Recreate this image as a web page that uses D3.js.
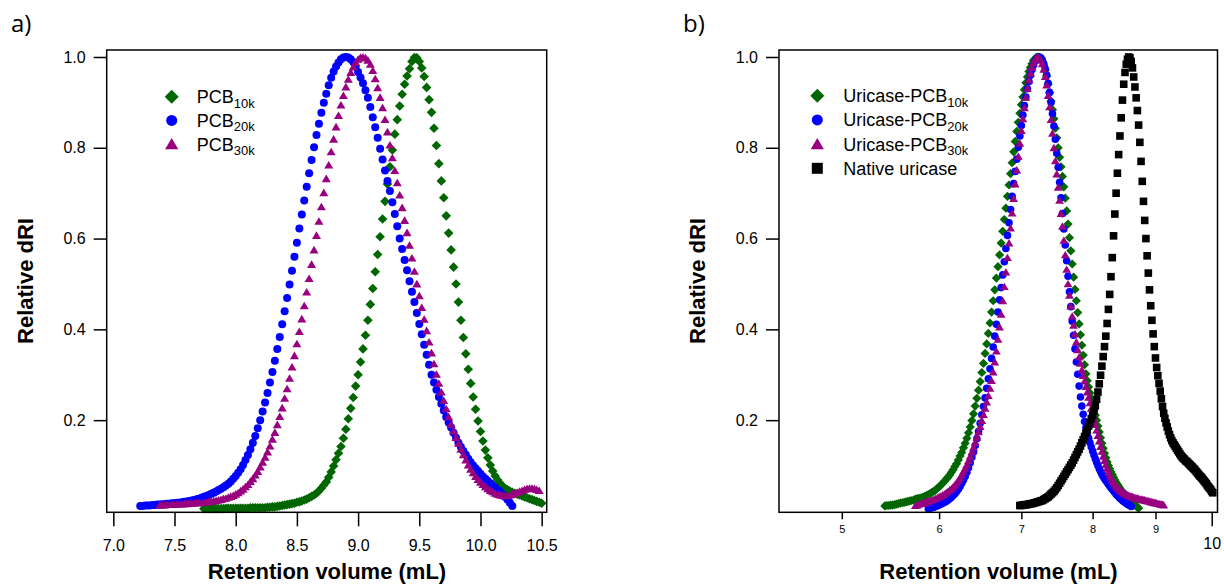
<!DOCTYPE html>
<html>
<head>
<meta charset="utf-8">
<script src="https://cdn.jsdelivr.net/npm/d3@7"></script>
<style>
  body { margin: 0; background: #fff; }
  text { font-family: "Liberation Sans", Arial, sans-serif; fill: #000; }
</style>
</head>
<body>
<script>
// retention volume grids (mL), one per panel
const volumeA = [
  7.22,7.24,7.26,7.28,7.30,7.32,7.34,7.36,7.38,7.40,
  7.42,7.44,7.46,7.48,7.50,7.52,7.54,7.56,7.58,7.60,
  7.62,7.64,7.66,7.68,7.70,7.72,7.74,7.76,7.78,7.80,
  7.82,7.84,7.86,7.88,7.90,7.92,7.94,7.96,7.98,8.00,
  8.02,8.04,8.06,8.08,8.10,8.12,8.14,8.16,8.18,8.20,
  8.22,8.24,8.26,8.28,8.30,8.32,8.34,8.36,8.38,8.40,
  8.42,8.44,8.46,8.48,8.50,8.52,8.54,8.56,8.58,8.60,
  8.62,8.64,8.66,8.68,8.70,8.72,8.74,8.76,8.78,8.80,
  8.82,8.84,8.86,8.88,8.90,8.92,8.94,8.96,8.98,9.00,
  9.02,9.04,9.06,9.08,9.10,9.12,9.14,9.16,9.18,9.20,
  9.22,9.24,9.26,9.28,9.30,9.32,9.34,9.36,9.38,9.40,
  9.42,9.44,9.46,9.48,9.50,9.52,9.54,9.56,9.58,9.60,
  9.62,9.64,9.66,9.68,9.70,9.72,9.74,9.76,9.78,9.80,
  9.82,9.84,9.86,9.88,9.90,9.92,9.94,9.96,9.98,10.00,
  10.02,10.04,10.06,10.08,10.10,10.12,10.14,10.16,10.18,10.20,
  10.22,10.24,10.26,10.28,10.30,10.32,10.34,10.36,10.38,10.40,
  10.42,10.44,10.46,10.48,10.50
];
const volumeB = [
  5.42,5.44,5.46,5.48,5.50,5.52,5.54,5.56,5.58,5.60,
  5.62,5.64,5.66,5.68,5.70,5.72,5.74,5.76,5.78,5.80,
  5.82,5.84,5.86,5.88,5.90,5.92,5.94,5.96,5.98,6.00,
  6.02,6.04,6.06,6.08,6.10,6.12,6.14,6.16,6.18,6.20,
  6.22,6.24,6.26,6.28,6.30,6.32,6.34,6.36,6.38,6.40,
  6.42,6.44,6.46,6.48,6.50,6.52,6.54,6.56,6.58,6.60,
  6.62,6.64,6.66,6.68,6.70,6.72,6.74,6.76,6.78,6.80,
  6.82,6.84,6.86,6.88,6.90,6.92,6.94,6.96,6.98,7.00,
  7.02,7.04,7.06,7.08,7.10,7.12,7.14,7.16,7.18,7.20,
  7.22,7.24,7.26,7.28,7.30,7.32,7.34,7.36,7.38,7.40,
  7.42,7.44,7.46,7.48,7.50,7.52,7.54,7.56,7.58,7.60,
  7.62,7.64,7.66,7.68,7.70,7.72,7.74,7.76,7.78,7.80,
  7.82,7.84,7.86,7.88,7.90,7.92,7.94,7.96,7.98,8.00,
  8.02,8.04,8.06,8.08,8.10,8.12,8.14,8.16,8.18,8.20,
  8.22,8.24,8.26,8.28,8.30,8.32,8.34,8.36,8.38,8.40,
  8.42,8.44,8.46,8.48,8.50,8.52,8.54,8.56,8.58,8.60,
  8.62,8.64,8.66,8.68,8.70,8.72,8.74,8.76,8.78,8.80,
  8.82,8.84,8.86,8.88,8.90,8.92,8.94,8.96,8.98,9.00,
  9.02,9.04,9.06,9.08,9.10,9.12,9.14,9.16,9.18,9.20,
  9.22,9.24,9.26,9.28,9.30,9.32,9.34,9.36,9.38,9.40,
  9.42,9.44,9.46,9.48,9.50,9.52,9.54,9.56,9.58,9.60,
  9.62,9.64,9.66,9.68,9.70,9.72,9.74,9.76,9.78,9.80,
  9.82,9.84,9.86,9.88,9.90,9.92,9.94,9.96,9.98,10.00,
  10.02
];

// panel a) relative dRI, each series starts at the given volume
const pcb10kStart = 7.74;
const pcb10k = [
  .005,.005,.005,.005,
  .005,.005,.005,.005,.005,.006,.006,.006,.006,.006,
  .006,.006,.006,.006,.006,.007,.007,.007,.007,.007,
  .007,.007,.008,.008,.009,.009,.010,.011,.012,.013,
  .014,.015,.016,.017,.019,.020,.022,.024,.026,.029,
  .032,.035,.039,.044,.050,.057,.064,.074,.086,.099,
  .113,.127,.142,.160,.180,.203,.226,.250,.275,.300,
  .328,.357,.387,.420,.455,.490,.527,.565,.604,.643,
  .682,.720,.758,.795,.830,.862,.892,.918,.940,.958,
  .974,.990,.999,.998,.990,.976,.957,.933,.906,.878,
  .843,.805,.765,.727,.690,.650,.612,.575,.537,.500,
  .460,.420,.382,.346,.312,.281,.251,.224,.198,.175,
  .154,.134,.117,.101,.088,.077,.068,.061,.055,.050,
  .047,.044,.041,.039,.037,.035,.033,.031,.029,.027,
  .025,.023,.021,.019,.017
];
const pcb20kStart = 7.22;
const pcb20k = [
  .011,.011,.012,.012,.012,.013,.013,.014,.014,.015,
  .015,.016,.016,.017,.017,.018,.018,.019,.020,.021,
  .022,.023,.024,.026,.027,.029,.031,.033,.035,.038,
  .040,.043,.046,.049,.052,.056,.060,.065,.071,.077,
  .084,.092,.101,.112,.123,.136,.150,.165,.182,.200,
  .219,.239,.260,.283,.306,.331,.357,.383,.411,.440,
  .469,.499,.529,.560,.591,.622,.653,.684,.714,.744,
  .773,.801,.828,.853,.877,.899,.919,.938,.954,.968,
  .979,.988,.995,.999,1.00,.999,.995,.989,.979,.967,
  .955,.942,.927,.910,.890,.867,.845,.822,.798,.774,
  .750,.727,.705,.680,.654,.627,.600,.577,.553,.530,
  .506,.483,.460,.436,.412,.389,.366,.344,.322,.300,
  .283,.267,.251,.236,.221,.207,.195,.184,.172,.161,
  .150,.141,.132,.124,.115,.107,.100,.094,.088,.082,
  .076,.071,.066,.061,.056,.051,.046,.042,.037,.031,
  .025,.018,.011
];
const pcb30kStart = 7.38;
const pcb30k = [
  .013,.013,
  .013,.014,.014,.014,.014,.015,.015,.015,.016,.016,
  .017,.017,.017,.018,.018,.018,.019,.019,.020,.021,
  .022,.023,.024,.025,.027,.028,.030,.032,.034,.037,
  .040,.044,.048,.053,.058,.065,.071,.079,.087,.097,
  .107,.118,.130,.143,.158,.173,.190,.208,.227,.248,
  .269,.292,.317,.342,.368,.395,.423,.452,.482,.512,
  .543,.575,.607,.638,.670,.701,.732,.762,.791,.819,
  .846,.871,.894,.915,.934,.951,.966,.978,.988,.995,
  .999,1.00,.998,.993,.984,.970,.952,.932,.911,.888,
  .862,.835,.806,.778,.750,.723,.696,.668,.640,.613,
  .585,.557,.528,.500,.474,.448,.422,.397,.372,.348,
  .324,.301,.281,.262,.243,.225,.207,.191,.176,.162,
  .149,.136,.124,.112,.101,.092,.084,.076,.069,.063,
  .058,.053,.049,.045,.042,.039,.037,.035,.034,.033,
  .034,.035,.037,.039,.041,.043,.045,.047,.049,.050,
  .050,.049,.047,.045
];

// panel b)
const uric10kStart = 5.42;
const uric10k = [
  .011,.012,.012,.013,.013,.014,.015,.016,.017,.018,
  .019,.020,.021,.022,.023,.024,.026,.027,.028,.029,
  .030,.032,.034,.036,.038,.041,.043,.046,.050,.053,
  .057,.061,.065,.070,.074,.079,.085,.091,.098,.104,
  .112,.121,.129,.139,.149,.160,.172,.185,.199,.214,
  .231,.248,.266,.285,.305,.325,.347,.368,.391,.414,
  .438,.463,.487,.513,.538,.564,.590,.616,.642,.667,
  .693,.718,.743,.767,.791,.814,.836,.856,.876,.895,
  .912,.928,.943,.956,.968,.977,.985,.992,.996,.999,
  1.00,.999,.996,.990,.982,.971,.958,.940,.921,.903,
  .884,.864,.843,.822,.800,.779,.758,.737,.714,.689,
  .661,.632,.602,.573,.544,.515,.488,.463,.437,.412,
  .388,.365,.343,.322,.302,.287,.273,.260,.247,.235,
  .223,.211,.200,.187,.174,.161,.149,.138,.127,.117,
  .108,.100,.093,.086,.080,.074,.068,.063,.058,.054,
  .050,.046,.042,.039,.036,.033,.030,.027,.024,.021,
  .018,.016,.013,.011,.008,.006
];
const uric20kStart = 5.88;
const uric20k = [
  .005,.006,.007,.008,.010,.011,.013,
  .015,.017,.019,.021,.024,.027,.030,.034,.038,.043,
  .048,.054,.061,.068,.076,.085,.095,.106,.118,.130,
  .144,.159,.175,.193,.212,.230,.249,.270,.291,.313,
  .336,.361,.385,.411,.438,.465,.492,.520,.549,.578,
  .607,.635,.664,.693,.721,.748,.775,.801,.826,.849,
  .872,.893,.912,.930,.946,.960,.972,.982,.990,.996,
  .999,1.00,.998,.993,.985,.974,.960,.942,.922,.900,
  .875,.848,.819,.788,.757,.724,.690,.655,.621,.586,
  .551,.517,.483,.450,.418,.387,.357,.328,.301,.275,
  .251,.231,.213,.197,.183,.171,.160,.150,.141,.132,
  .123,.115,.107,.100,.093,.087,.081,.076,.071,.067,
  .063,.059,.055,.051,.048,.044,.041,.037,.034,.031,
  .028,.026,.023,.021,.019,.017,.015,.013,.012,.010
];
const uric30kStart = 5.74;
const uric30k = [
  .012,.013,.015,.016,
  .017,.018,.020,.021,.022,.024,.025,.027,.029,.031,
  .033,.035,.037,.040,.043,.046,.049,.053,.057,.062,
  .067,.073,.080,.087,.094,.102,.111,.120,.130,.140,
  .151,.162,.174,.186,.199,.212,.226,.240,.254,.270,
  .287,.306,.328,.352,.378,.405,.433,.463,.494,.526,
  .558,.590,.623,.656,.688,.720,.751,.781,.810,.838,
  .864,.888,.911,.931,.949,.964,.977,.987,.994,.998,
  1.00,.998,.993,.985,.973,.957,.938,.915,.890,.862,
  .832,.800,.771,.742,.713,.684,.655,.627,.596,.564,
  .532,.500,.475,.451,.429,.409,.390,.372,.355,.339,
  .325,.311,.298,.286,.274,.262,.250,.238,.226,.214,
  .202,.190,.178,.166,.154,.142,.131,.120,.111,.102,
  .094,.087,.080,.074,.069,.064,.059,.055,.052,.049,
  .046,.044,.042,.040,.038,.037,.035,.034,.033,.032,
  .031,.030,.029,.028,.028,.027,.026,.026,.025,.024,
  .024,.023,.022,.022,.021,.020,.020,.019,.018,.018,
  .017,.016,.016,.015,.014,.014,.013
];
const nativeStart = 6.98;
const nativeUricase = [
  .012,.012,
  .013,.013,.014,.014,.015,.016,.016,.017,.018,.019,
  .020,.021,.022,.023,.025,.027,.029,.031,.034,.037,
  .040,.043,.047,.051,.056,.061,.066,.071,.076,.081,
  .086,.091,.096,.101,.106,.112,.118,.124,.130,.136,
  .143,.150,.157,.164,.171,.179,.187,.195,.203,.211,
  .220,.232,.246,.262,.280,.299,.319,.340,.362,.385,
  .413,.444,.477,.516,.558,.606,.654,.700,.744,.785,
  .826,.866,.905,.940,.966,.984,.995,1.00,.998,.990,
  .976,.956,.934,.910,.882,.850,.812,.770,.726,.682,
  .640,.600,.562,.524,.487,.452,.420,.390,.362,.337,
  .316,.298,.281,.264,.247,.230,.215,.204,.194,.185,
  .176,.168,.161,.155,.150,.146,.142,.138,.134,.130,
  .126,.122,.119,.116,.114,.111,.109,.107,.104,.102,
  .099,.097,.094,.092,.089,.086,.083,.080,.077,.075,
  .072,.069,.066,.063,.060,.056,.053,.050,.047,.043,
  .040
];

// axis ticks and labels
const ticksA = [7.0, 7.5, 8.0, 8.5, 9.0, 9.5, 10.0, 10.5];
const minorTicksB = [5, 6, 7, 8, 9];
const majorTicksB = [10];
const ticksY = [0.2, 0.4, 0.6, 0.8, 1.0];
const namesA = ["PCB", "PCB", "PCB"];
const subsA = ["10k", "20k", "30k"];
const namesB = ["Uricase-PCB", "Uricase-PCB", "Uricase-PCB", "Native uricase"];
const subsB = ["10k", "20k", "30k", ""];

var width = 1224, height = 586;
var top0 = 50, bottom0 = 512.3;

var svg = d3.select("body").append("svg")
  .attr("width", width)
  .attr("height", height);

var y = d3.scaleLinear().domain([-0.003, 1.0154]).range([bottom0, top0]);
var xA = d3.scaleLinear().domain([6.946, 10.541]).range([106.7, 546.7]);
var xB = d3.scaleLog().domain([4.445, 10.109]).range([779, 1217.5]);

var green = "#006600", blue = "#0000ff", purple = "#990080", black = "#000000";

// marker shapes, r = half size
function shapePath(kind, r) {
  if (kind == "diamond") return "M0," + (-r) + "L" + r + ",0L0," + r + "L" + (-r) + ",0Z";
  if (kind == "triangle") return "M0," + (-r) + "L" + (r * 1.1) + "," + (r * 0.85) + "L" + (-r * 1.1) + "," + (r * 0.85) + "Z";
  if (kind == "square") return "M" + (-r) + "," + (-r) + "h" + (2 * r) + "v" + (2 * r) + "h" + (-2 * r) + "Z";
  return d3.symbol(d3.symbolCircle, Math.PI * r * r)();
}

function points(grid, start, values) {
  var i0 = grid.indexOf(start);
  return values.map(function(v, i) {
    return [grid[i0 + i], v];
  });
}

var seriesA = [
  {pts: points(volumeA, pcb10kStart, pcb10k), shape: "diamond", r: 4.8, color: green},
  {pts: points(volumeA, pcb20kStart, pcb20k), shape: "circle", r: 4.0, color: blue},
  {pts: points(volumeA, pcb30kStart, pcb30k), shape: "triangle", r: 4.1, color: purple}
];
var seriesB = [
  {pts: points(volumeB, uric10kStart, uric10k), shape: "diamond", r: 4.6, color: green},
  {pts: points(volumeB, uric20kStart, uric20k), shape: "circle", r: 3.8, color: blue},
  {pts: points(volumeB, uric30kStart, uric30k), shape: "triangle", r: 4.0, color: purple},
  {pts: points(volumeB, nativeStart, nativeUricase), shape: "square", r: 3.8, color: black}
];

function drawSeries(series, x) {
  series.forEach(function(s) {
    svg.append("g")
      .attr("fill", s.color)
      .selectAll("path")
      .data(s.pts)
      .join("path")
      .attr("transform", function(d) {
        return "translate(" + x(d[0]) + "," + y(d[1]) + ")";
      })
      .attr("d", shapePath(s.shape, s.r));
  });
}

function styleAxis(g, size) {
  g.select(".domain").remove();
  g.selectAll(".tick line").attr("stroke", "#000").attr("stroke-width", 1.5);
  g.selectAll(".tick text")
    .style("font-family", '"Liberation Sans", Arial, sans-serif')
    .style("font-size", size + "px")
    .attr("fill", "#000");
}

function frame(x) {
  var r = x.range();
  svg.append("rect")
    .attr("x", r[0]).attr("y", top0)
    .attr("width", r[1] - r[0]).attr("height", bottom0 - top0)
    .attr("fill", "none").attr("stroke", "#000").attr("stroke-width", 1.5);
}

function yAxis(x) {
  svg.append("g")
    .attr("transform", "translate(" + x.range()[0] + ",0)")
    .call(d3.axisLeft(y).tickValues(ticksY).tickFormat(d3.format(".1f")).tickSize(13).tickPadding(8))
    .call(styleAxis, 16);
}

function titles(cx, yx, letter, lx) {
  svg.append("text")
    .attr("x", cx).attr("y", 579)
    .attr("text-anchor", "middle")
    .style("font-size", "22px").style("font-weight", "bold")
    .text("Retention volume (mL)");
  svg.append("text")
    .attr("transform", "translate(" + yx + ",281) rotate(-90)")
    .attr("text-anchor", "middle")
    .style("font-size", "22px").style("font-weight", "bold")
    .text("Relative dRI");
  svg.append("text")
    .attr("x", lx).attr("y", 32)
    .style("font-family", '"Open Sans", sans-serif')
    .style("font-size", "24px")
    .text(letter);
}

function legend(series, names, subs, mx, my, step, tx) {
  series.forEach(function(s, i) {
    var cy = my + i * step;
    var big = {diamond: 7, circle: 5.5, triangle: 6, square: 5.5}[s.shape];
    svg.append("path")
      .attr("transform", "translate(" + mx + "," + cy + ")")
      .attr("d", shapePath(s.shape, big))
      .attr("fill", s.color);
    var t = svg.append("text")
      .attr("x", tx).attr("y", cy + 6.5)
      .style("font-size", "18px");
    t.append("tspan").text(names[i]);
    if (subs[i]) t.append("tspan").attr("dy", 4.5).style("font-size", "13px").text(subs[i]);
  });
}

// panel a)
drawSeries(seriesA, xA);
frame(xA);
yAxis(xA);
svg.append("g")
  .attr("transform", "translate(0," + bottom0 + ")")
  .call(d3.axisBottom(xA).tickValues(ticksA).tickFormat(d3.format(".1f")).tickSize(14).tickPadding(13))
  .call(styleAxis, 16);
titles(327, 33, "a)", 11);
legend(seriesA, namesA, subsA, 171.7, 96.7, 23.7, 196.7);

// panel b)
drawSeries(seriesB, xB);
frame(xB);
yAxis(xB);
svg.append("g")
  .attr("transform", "translate(0," + bottom0 + ")")
  .call(d3.axisBottom(xB).tickValues(minorTicksB).tickFormat(d3.format("d")).tickSize(7).tickPadding(6))
  .call(styleAxis, 11);
svg.append("g")
  .attr("transform", "translate(0," + bottom0 + ")")
  .call(d3.axisBottom(xB).tickValues(majorTicksB).tickFormat(d3.format("d")).tickSize(14).tickPadding(11))
  .call(styleAxis, 16);
titles(998.5, 705, "b)", 683);
legend(seriesB, namesB, subsB, 817.3, 95.7, 24.2, 843.3);
</script>
</body>
</html>
